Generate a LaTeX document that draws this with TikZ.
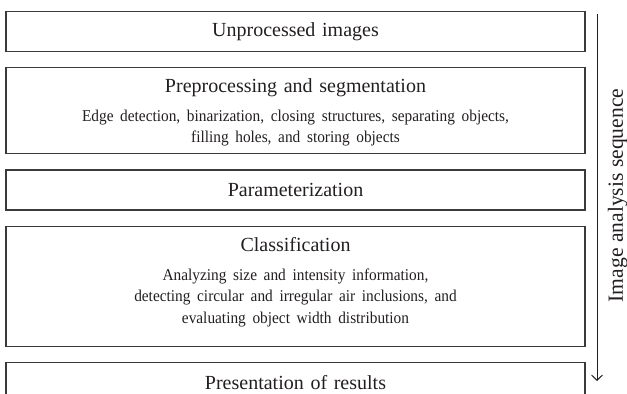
\documentclass[tikz,border=0pt]{standalone}
\usepackage{fontspec}
\setmainfont{Liberation Serif}
\newfontfamily\notefamily{Liberation Serif}[FakeStretch=0.93,WordSpace=0.8]
\usepackage{xcolor}
\definecolor{ink}{HTML}{231F20}
\definecolor{frame}{HTML}{3A3A3A}
\usepackage{tikz}
\usetikzlibrary{arrows.meta,positioning,calc}
\newcommand{\stagehead}[1]{{\fontsize{10}{10.75}\selectfont #1}}
\newcommand{\stagenote}[1]{{\notefamily\fontsize{8.25}{10.75}\selectfont #1}}

\begin{document}
\begin{tikzpicture}[
  text=ink,
  stage/.style={draw=frame,line width=0.6pt,minimum width=289.5pt,
    text width=280pt,align=center,inner sep=0pt,font=\fontsize{10}{10.75}\selectfont},
  seq/.style={-{Straight Barb[length=2.6pt,width=5.4pt]},ink,line width=0.5pt},
  node distance=7.5pt]
\useasboundingbox (0,0) rectangle (313.5pt,-197pt);
\node[stage,minimum height=20pt,anchor=north] (raw) at (147.75pt,-5.5pt)
  {\stagehead{Unprocessed images}};
\node[stage,minimum height=43pt,text height=8.6pt,below=of raw] (prep)
  {\stagehead{Preprocessing and segmentation}\\[3.8pt]
   \stagenote{Edge detection, binarization, closing structures, separating objects,\\
   filling holes, and storing objects}};
\node[stage,minimum height=20pt,below=of prep] (param)
  {\stagehead{Parameterization}};
\node[stage,minimum height=60pt,text height=3pt,below=of param] (classif)
  {\stagehead{Classification}\\[3.6pt]
   \stagenote{Analyzing size and intensity information,\\
   detecting circular and irregular air inclusions, and\\
   evaluating object width distribution}};
\node[stage,minimum height=20pt,below=of classif] (results)
  {\stagehead{Presentation of results}};
\coordinate (seqtop) at (298.5pt,-7pt);
\coordinate (seqend) at (298.5pt,-190.5pt);
\draw[seq] (seqtop) -- (seqend);
\node[rotate=90,anchor=north,inner sep=0pt,font=\fontsize{10.8}{12}\selectfont]
  (seqlabel) at ($(seqtop)!0.5!(seqend)+(5.3pt,1pt)$) {Image analysis sequence};
\end{tikzpicture}
\end{document}
